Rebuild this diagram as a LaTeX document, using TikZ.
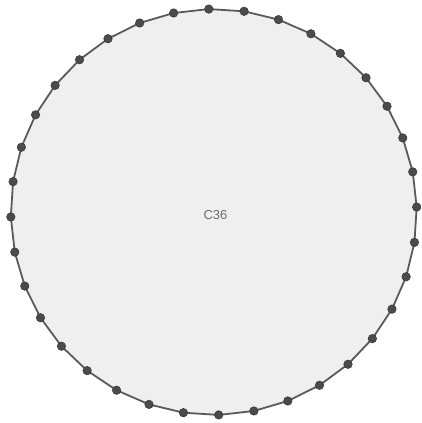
\documentclass[tikz,border=0pt]{standalone}
\usepackage{fontspec}
\setmainfont{Liberation Sans}
\usetikzlibrary{calc}
\definecolor{cyclefill}{RGB}{239,239,239}
\definecolor{edgegray}{RGB}{90,90,90}
\definecolor{vertexgray}{RGB}{75,75,75}
\definecolor{labelgray}{RGB}{110,110,110}
\tikzset{
  vertex/.style={circle, fill=vertexgray, draw=black!80, line width=0.5pt, inner sep=0pt, minimum size=8.5pt},
  cycleedge/.style={draw=edgegray, line width=1.8pt}
}

\begin{document}
\begin{tikzpicture}[x=1pt, y=1pt]
  \useasboundingbox (0,0) rectangle (421,423);
  \coordinate (center) at (213.75,211);
  % vertices of the cycle
  \foreach \k in {1,...,36} {
    \coordinate (p\k) at ($(center)+({1.4+10*(\k-1)}:203)$);
  }
  \fill[cyclefill] (p1) \foreach \k in {2,...,36} { -- (p\k) } -- cycle;
  \foreach \k [remember=\k as \j (initially 36)] in {1,...,36} {
    \draw[cycleedge] (p\j) -- (p\k);
  }
  \foreach \k in {1,...,36} {
    \node[vertex] (v\k) at (p\k) {};
  }
  \node[text=labelgray, font=\fontsize{13}{15}\selectfont] (label) at (215.5,207.5) {C36};
\end{tikzpicture}
\end{document}
